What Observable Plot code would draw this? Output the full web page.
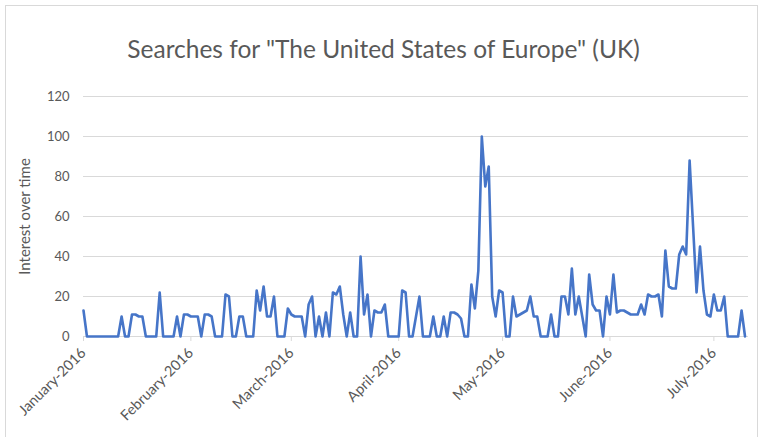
<!DOCTYPE html>
<html>
<head>
<meta charset="utf-8">
<script src="https://cdn.jsdelivr.net/npm/d3@7"></script>
<script src="https://cdn.jsdelivr.net/npm/@observablehq/plot@0.6"></script>
<style>
  html, body { margin: 0; padding: 0; background: #fff; }
  #wrap { position: relative; width: 767px; height: 437px; overflow: hidden; font-family: Lato, "Open Sans", sans-serif; }
  #frame { position: absolute; left: 5px; top: 5px; width: 753px; height: 460px; border: 1px solid #d9d9d9; box-sizing: border-box; }
  #title { position: absolute; left: 0; top: 37px; width: 767px; text-align: center; font-size: 24.5px; line-height: 1; color: #595959; white-space: nowrap; }
  #chart { position: absolute; left: 0; top: 0; }
</style>
</head>
<body>
<div id="wrap">
  <div id="frame"></div>
  <div id="chart"></div>
  <div id="title">Searches for "The United States of Europe" (UK)</div>
</div>
<script>
// Daily "interest over time" values, 2016, one array per month
const jan = [13,0,0,0,0,0,0,0,0,0,0,10,0,0,11,11,10,10,0,0,0,0,22,0,0,0,0,10,0,11,11];
const feb = [10,10,10,0,11,11,10,0,0,0,21,20,0,0,10,10,0,0,0,23,13,25,10,10,20,0,0,0,14];
const mar = [11,10,10,10,0,16,20,0,10,0,12,0,22,21,25,11,0,12,0,0,40,11,21,0,13,12,12,16,0,0,0];
const apr = [0,23,22,0,0,10,20,0,0,0,10,0,0,10,0,12,12,11,9,0,0,26,14,33,100,75,85,20,10,23];
const may = [22,0,0,20,10,11,12,13,20,10,10,0,0,0,11,0,0,20,20,11,34,11,20,10,0,31,16,13,13,0,20];
const jun = [11,31,12,13,13,12,11,11,11,16,11,21,20,20,21,10,43,25,24,24,41,45,41,88,55,22,45,23,11,10];
const jul = [21,13,13,20,0,0,0,0,13,0];

const monthNames = ["January","February","March","April","May","June","July"];
const yTicks = [0,20,40,60,80,100,120];
const year = 2016;

const monthly = [jan, feb, mar, apr, may, jun, jul];
const data = monthly.flatMap((vals, m) =>
  vals.map((v, d) => ({ date: new Date(Date.UTC(year, m, d + 1)), value: v })));
const monthStarts = monthNames.map((n, m) => new Date(Date.UTC(year, m, 1)));

const font = "Lato, 'Open Sans', sans-serif";
const chart = Plot.plot({
  width: 767,
  height: 437,
  marginLeft: 83,
  marginRight: 19,
  marginTop: 96,
  marginBottom: 101,
  style: { fontFamily: font, fontSize: "13px", color: "#595959", background: "transparent", overflow: "visible" },
  x: { type: "utc", domain: [new Date(Date.UTC(year, 0, 1)), new Date(Date.UTC(year, 6, 11))] },
  y: { domain: [0, 120] },
  marks: [
    Plot.gridY(yTicks, { stroke: "#d9d9d9", strokeOpacity: 1, strokeWidth: 1 }),
    Plot.axisY(yTicks, {
      tickSize: 0, tickPadding: 14, fontSize: 13,
      label: "Interest over time", labelAnchor: "center", labelArrow: "none", labelOffset: 64
    }),
    Plot.axisX(monthStarts, {
      tickFormat: d => monthNames[d.getUTCMonth()] + "-" + year,
      tickRotate: -45, tickSize: 5, tickPadding: 9, stroke: "#d9d9d9", fontSize: 14.5, label: null
    }),
    Plot.ruleY([0], { stroke: "#d9d9d9", strokeWidth: 1 }),
    Plot.lineY(data, { x: "date", y: "value", stroke: "#4675c8", strokeWidth: 2.6, strokeLinejoin: "round" })
  ]
});
// match the reference's larger axis title
chart.querySelectorAll("g[aria-label='y-axis label'] text").forEach(t => t.setAttribute("font-size", "15"));
document.getElementById("chart").appendChild(chart);
</script>
</body>
</html>
